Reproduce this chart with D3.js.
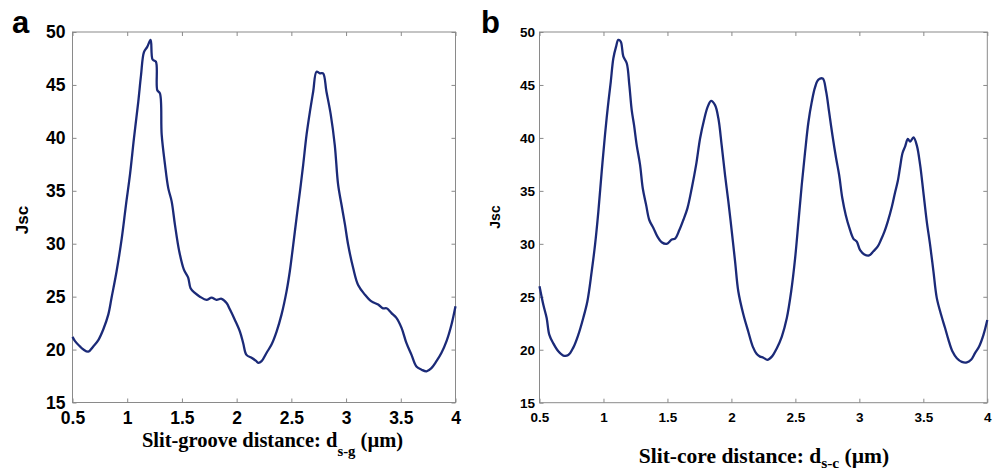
<!DOCTYPE html>
<html>
<head>
<meta charset="utf-8">
<script src="https://cdn.jsdelivr.net/npm/d3@7/dist/d3.min.js"></script>
<style>
  body { margin: 0; background: #fff; }
  svg { display: block; }
  .tick text { font-family: "Liberation Sans", Arial, sans-serif; font-weight: bold; fill: #000; }
  .axis-title { font-family: "Liberation Serif", "Times New Roman", serif; font-weight: bold; fill: #000; }
  .y-title, .panel-label { font-family: "Liberation Sans", Arial, sans-serif; font-weight: bold; fill: #000; }
</style>
</head>
<body>
<svg id="chart" width="998" height="471"></svg>
<script>
// panel a: slit-groove distance vs Jsc
const grooveX = [0.5, 0.523, 0.568, 0.6, 0.644, 0.69, 0.736, 0.781, 0.827, 0.857, 0.903, 0.95, 0.989,
  1.025, 1.062, 1.101, 1.126, 1.153, 1.183, 1.214, 1.232, 1.262, 1.275, 1.299, 1.315, 1.345, 1.375,
  1.406, 1.436, 1.475, 1.518, 1.557, 1.579, 1.618, 1.664, 1.725, 1.771, 1.816, 1.862, 1.908, 1.938,
  1.984, 2.03, 2.06, 2.09, 2.14, 2.18, 2.197, 2.228, 2.274, 2.32, 2.365, 2.41, 2.456, 2.486, 2.517,
  2.547, 2.578, 2.608, 2.639, 2.67, 2.7, 2.73, 2.76, 2.79, 2.82, 2.86, 2.897, 2.927, 2.958, 2.99,
  3.019, 3.065, 3.11, 3.171, 3.232, 3.293, 3.338, 3.37, 3.415, 3.46, 3.507, 3.552, 3.598, 3.643,
  3.69, 3.735, 3.78, 3.826, 3.872, 3.918, 3.963, 4.0];
const grooveJsc = [21.2, 20.8, 20.3, 20.0, 19.8, 20.3, 20.9, 21.9, 23.3, 24.9, 27.4, 30.5, 33.7,
  36.5, 40.0, 43.4, 45.9, 48.1, 48.6, 49.25, 47.4, 47.2, 44.5, 44.2, 40.3, 37.5, 35.25,
  34.0, 31.8, 29.3, 27.55, 26.8, 25.8, 25.35, 25.0, 24.7, 24.9, 24.7, 24.8, 24.4, 23.8,
  22.8, 21.7, 20.6, 19.5, 19.2, 18.9, 18.75, 18.9, 19.7, 20.5, 21.7, 23.3, 25.5, 27.4, 29.9,
  32.4, 34.9, 37.45, 40.3, 42.5, 44.4, 46.25, 46.1, 46.1, 44.4, 42.2, 39.3, 35.6, 33.7, 31.8,
  29.9, 27.7, 26.1, 25.2, 24.55, 24.25, 23.9, 23.9, 23.45, 23.0, 22.05, 20.6, 19.5, 18.4,
  18.1, 17.95, 18.25, 18.9, 19.7, 20.8, 22.35, 24.1];

// panel b: slit-core distance vs Jsc
const coreX = [0.5, 0.53, 0.556, 0.577, 0.608, 0.647, 0.686, 0.725, 0.764, 0.803, 0.842, 0.874, 0.908,
  0.934, 0.96, 0.986, 1.012, 1.033, 1.057, 1.077, 1.098, 1.116, 1.135, 1.155, 1.182, 1.202, 1.221,
  1.239, 1.26, 1.286, 1.307, 1.333, 1.358, 1.39, 1.421, 1.455, 1.494, 1.534, 1.56, 1.593, 1.624,
  1.656, 1.69, 1.724, 1.755, 1.786, 1.815, 1.841, 1.872, 1.898, 1.924, 1.95, 1.976, 2.003, 2.029,
  2.054, 2.094, 2.132, 2.167, 2.198, 2.224, 2.25, 2.281, 2.316, 2.355, 2.394, 2.433, 2.467, 2.498,
  2.524, 2.55, 2.576, 2.602, 2.628, 2.654, 2.68, 2.714, 2.74, 2.763, 2.789, 2.818, 2.842, 2.867,
  2.894, 2.922, 2.953, 2.98, 3.006, 3.039, 3.076, 3.11, 3.144, 3.17, 3.196, 3.222, 3.254, 3.28,
  3.3, 3.319, 3.337, 3.358, 3.379, 3.397, 3.423, 3.449, 3.475, 3.5, 3.527, 3.553, 3.579, 3.605,
  3.639, 3.67, 3.696, 3.727, 3.762, 3.801, 3.84, 3.873, 3.905, 3.936, 3.97, 4.0];
const coreJsc = [26.0, 24.25, 23.0, 21.4, 20.6, 19.85, 19.45, 19.5, 20.2, 21.4, 23.0, 24.55, 27.4,
  29.9, 33.05, 36.8, 40.3, 42.8, 45.3, 47.5, 48.6, 49.25, 49.1, 47.7, 47.05, 45.0, 42.6,
  41.2, 39.3, 37.45, 35.25, 33.7, 32.25, 31.5, 30.7, 30.15, 30.0, 30.4, 30.5, 31.3, 32.25,
  33.35, 35.25, 37.45, 39.95, 41.7, 42.95, 43.5, 43.1, 41.85, 39.3, 36.5, 34.0, 31.15, 28.3,
  25.5, 23.3, 21.7, 20.3, 19.6, 19.35, 19.25, 19.05, 19.35, 20.15, 21.25, 23.0, 25.5, 28.65,
  32.1, 35.6, 38.7, 41.5, 43.4, 44.8, 45.5, 45.6, 44.4, 42.5, 40.3, 38.1, 36.5, 34.3,
  32.7, 31.5, 30.5, 30.2, 29.4, 29.0, 28.9, 29.3, 29.75, 30.4, 31.15, 32.1, 33.5, 34.9,
  35.9, 37.3, 38.55, 39.2, 39.9, 39.65, 40.05, 39.3, 37.45, 34.9, 32.1, 29.9, 27.4, 24.9,
  23.3, 22.05, 20.95, 19.85, 19.2, 18.85, 18.8, 19.05, 19.7, 20.3, 21.4, 22.8];

// axis ticks
const xTicks = [0.5, 1, 1.5, 2, 2.5, 3, 3.5, 4];
const yTicks = [15, 20, 25, 30, 35, 40, 45, 50];

const LINE_COLOR = "#1b2a78";
const BOX_COLOR = "#8a8a8a";

const svg = d3.select("#chart");

function drawPanel(opts) {
  const { left, right, top, bottom, xs, ys, tickFont, padY, padX, label, labelX,
    yTitle, title, sub, subDrop, titleX, titleY, titleFont } = opts;

  const x = d3.scaleLinear().domain([0.5, 4]).range([left, right]);
  const y = d3.scaleLinear().domain([15, 50]).range([bottom, top]);

  const g = svg.append("g");

  // box
  g.append("rect")
    .attr("x", left).attr("y", top)
    .attr("width", right - left).attr("height", bottom - top)
    .attr("fill", "none").attr("stroke", BOX_COLOR).attr("stroke-width", 1);

  const styleAxis = (sel) => {
    sel.select(".domain").remove();
    sel.selectAll(".tick line").attr("stroke", BOX_COLOR);
  };

  g.append("g").attr("transform", `translate(0,${bottom})`)
    .call(d3.axisBottom(x).tickValues(xTicks).tickFormat(d3.format("")).tickSize(-4).tickPadding(padX))
    .call(styleAxis)
    .selectAll("text").style("font-size", tickFont + "px");

  g.append("g").attr("transform", `translate(0,${top})`)
    .call(d3.axisTop(x).tickValues(xTicks).tickFormat("").tickSize(-4))
    .call(styleAxis);

  g.append("g").attr("transform", `translate(${left},0)`)
    .call(d3.axisLeft(y).tickValues(yTicks).tickSize(-4).tickPadding(padY))
    .call(styleAxis)
    .selectAll("text").style("font-size", tickFont + "px");

  g.append("g").attr("transform", `translate(${right},0)`)
    .call(d3.axisRight(y).tickValues(yTicks).tickFormat("").tickSize(-4))
    .call(styleAxis);

  // curve
  const pts = xs.map((d, i) => [d, ys[i]]);
  const line = d3.line()
    .x((d) => x(d[0]))
    .y((d) => y(d[1]))
    .curve(d3.curveCatmullRom.alpha(0.5));

  g.append("path")
    .datum(pts)
    .attr("d", line)
    .attr("fill", "none")
    .attr("stroke", LINE_COLOR)
    .attr("stroke-width", 2.3)
    .attr("stroke-linejoin", "round");

  // panel letter
  g.append("text")
    .attr("class", "panel-label")
    .attr("x", labelX).attr("y", 33)
    .style("font-size", "31px")
    .text(label);

  // y title
  g.append("text")
    .attr("class", "y-title")
    .attr("transform", `translate(${yTitle.x},${yTitle.y}) rotate(-90)`)
    .attr("text-anchor", "middle")
    .style("font-size", yTitle.size + "px")
    .text("Jsc");

  // x title
  const t = g.append("text")
    .attr("class", "axis-title")
    .attr("x", titleX).attr("y", titleY)
    .attr("text-anchor", "middle")
    .style("font-size", titleFont + "px");
  t.append("tspan").text(title + " d");
  t.append("tspan").attr("dy", subDrop).style("font-size", (titleFont * 0.72) + "px").text(sub);
  t.append("tspan").attr("dy", -subDrop).text(" (\u00b5m)");
}

drawPanel({
  left: 72.5, right: 455.5, top: 32, bottom: 402.5,
  xs: grooveX, ys: grooveJsc,
  tickFont: 17.5, padY: 7, padX: 9.5,
  label: "a", labelX: 12,
  yTitle: { x: 28, y: 220, size: 17 },
  title: "Slit-groove distance:", sub: "s-g", subDrop: 9,
  titleX: 272.5, titleY: 447, titleFont: 20.5
});

drawPanel({
  left: 539.5, right: 987.3, top: 32, bottom: 402.7,
  xs: coreX, ys: coreJsc,
  tickFont: 13.5, padY: 4.5, padX: 10,
  label: "b", labelX: 481,
  yTitle: { x: 500, y: 217, size: 14 },
  title: "Slit-core distance:", sub: "s-c", subDrop: 5,
  titleX: 764, titleY: 463, titleFont: 21.5
});
</script>
</body>
</html>
